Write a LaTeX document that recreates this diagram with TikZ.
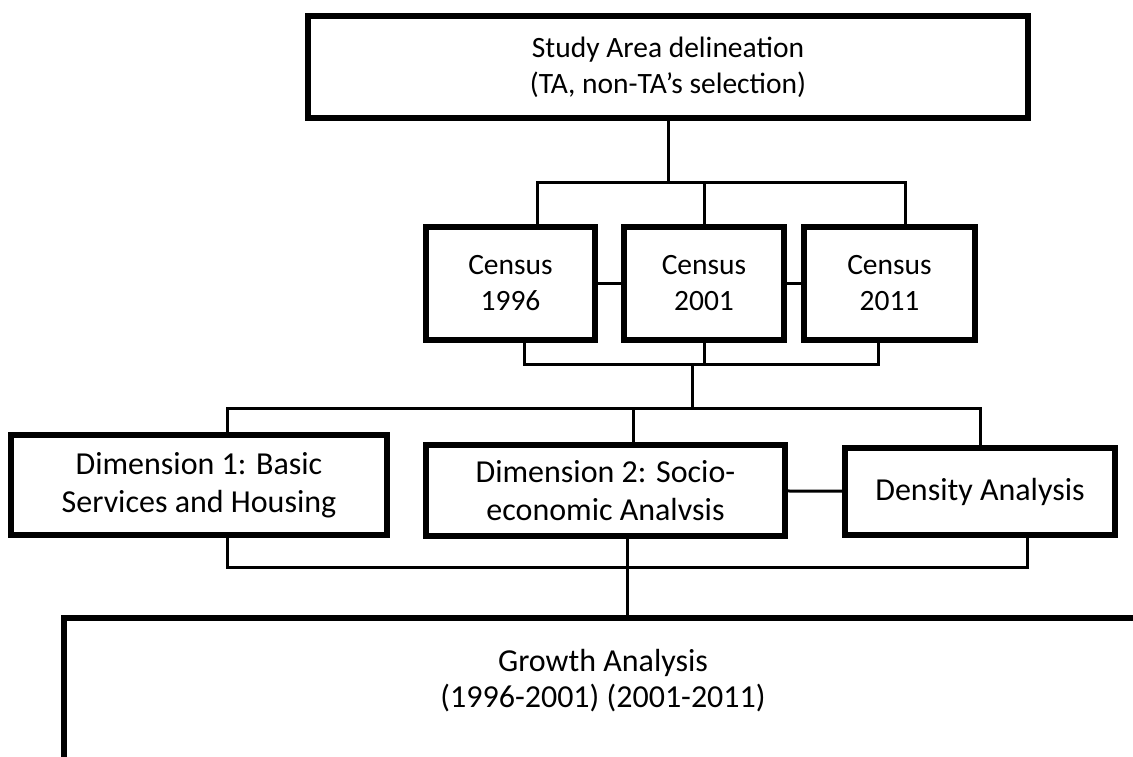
\documentclass[tikz,border=0pt]{standalone}
\usepackage{fontspec}
\setmainfont{Carlito}

\begin{document}
\begin{tikzpicture}[x=1pt, y=-1pt,
  box/.style={draw, line width=5.5pt, inner sep=0pt, align=center,
    font=\fontsize{29.5}{36}\selectfont},
  bigbox/.style={box, font=\fontsize{32}{38}\selectfont},
  link/.style={line width=3pt}]

\useasboundingbox (0,0) rectangle (1133,756);
\clip (0,0) rectangle (1133,756);

\node (study) at (668,67)[box, minimum width=720pt, minimum height=102pt] {Study Area delineation\\(TA, non-TA's selection)};

\node (c96) at (510.5,283.5)[box, minimum width=169pt, minimum height=113pt] {Census\\1996};
\node (c01) at (704,283.5)[box, minimum width=160pt, minimum height=113pt] {Census\\2001};
\node (c11) at (889.5,283.5)[box, minimum width=171pt, minimum height=113pt] {Census\\2011};

\node (dim1) at (199,485)[bigbox, minimum width=376pt, minimum height=100pt] {Dimension 1: Basic\\Services and Housing};
\node (dim2) at (605.5,490.5)[bigbox, minimum width=359pt, minimum height=91pt] {Dimension 2: Socio-\\economic Analvsis};
\node (dens) at (980,491.5)[bigbox, minimum width=270pt, minimum height=87pt] {Density Analysis};

\draw[line width=5.5pt] (64,770) -- (64,618) -- (1145,618);
\coordinate (gtop) at (627,618);
\node (growth) at (603,681)[align=center, font=\fontsize{32}{36}\selectfont] {Growth Analysis\\(1996-2001) (2001-2011)};

\coordinate (cbus) at (668,182);
\coordinate (cjoin) at (692,364);
\coordinate (dbus) at (692,408);
\coordinate (gbus) at (627,567);

\draw[link] (study) -- (cbus);
\draw[link] ([xshift=26.5pt]c96.north) |- ([xshift=16pt]c11.north |- cbus) -- ([xshift=16pt]c11.north);
\draw[link] (c01.north) -- (c01.north |- cbus);
\draw[link] (c96) -- (c01);
\draw[link] (c01) -- (c11);

\draw[link] ([xshift=13.5pt]c96.south) |- ([xshift=-11.5pt]c11.south |- cjoin) -- ([xshift=-11.5pt]c11.south);
\draw[link] (c01.south) -- (c01.south |- cjoin);
\draw[link] (cjoin) -- (dbus);

\draw[link] ([xshift=28pt]dim1.north) |- (dens.north |- dbus) -- (dens.north);
\draw[link] ([xshift=27.5pt]dim2.north) -- ([xshift=27.5pt]dim2.north |- dbus);
\draw[link] (dim2) -- (dens);

\draw[link] ([xshift=28pt]dim1.south) |- ([xshift=47pt]dens.south |- gbus) -- ([xshift=47pt]dens.south);
\draw[link] ([xshift=21.5pt]dim2.south) -- (gtop);

\end{tikzpicture}
\end{document}
